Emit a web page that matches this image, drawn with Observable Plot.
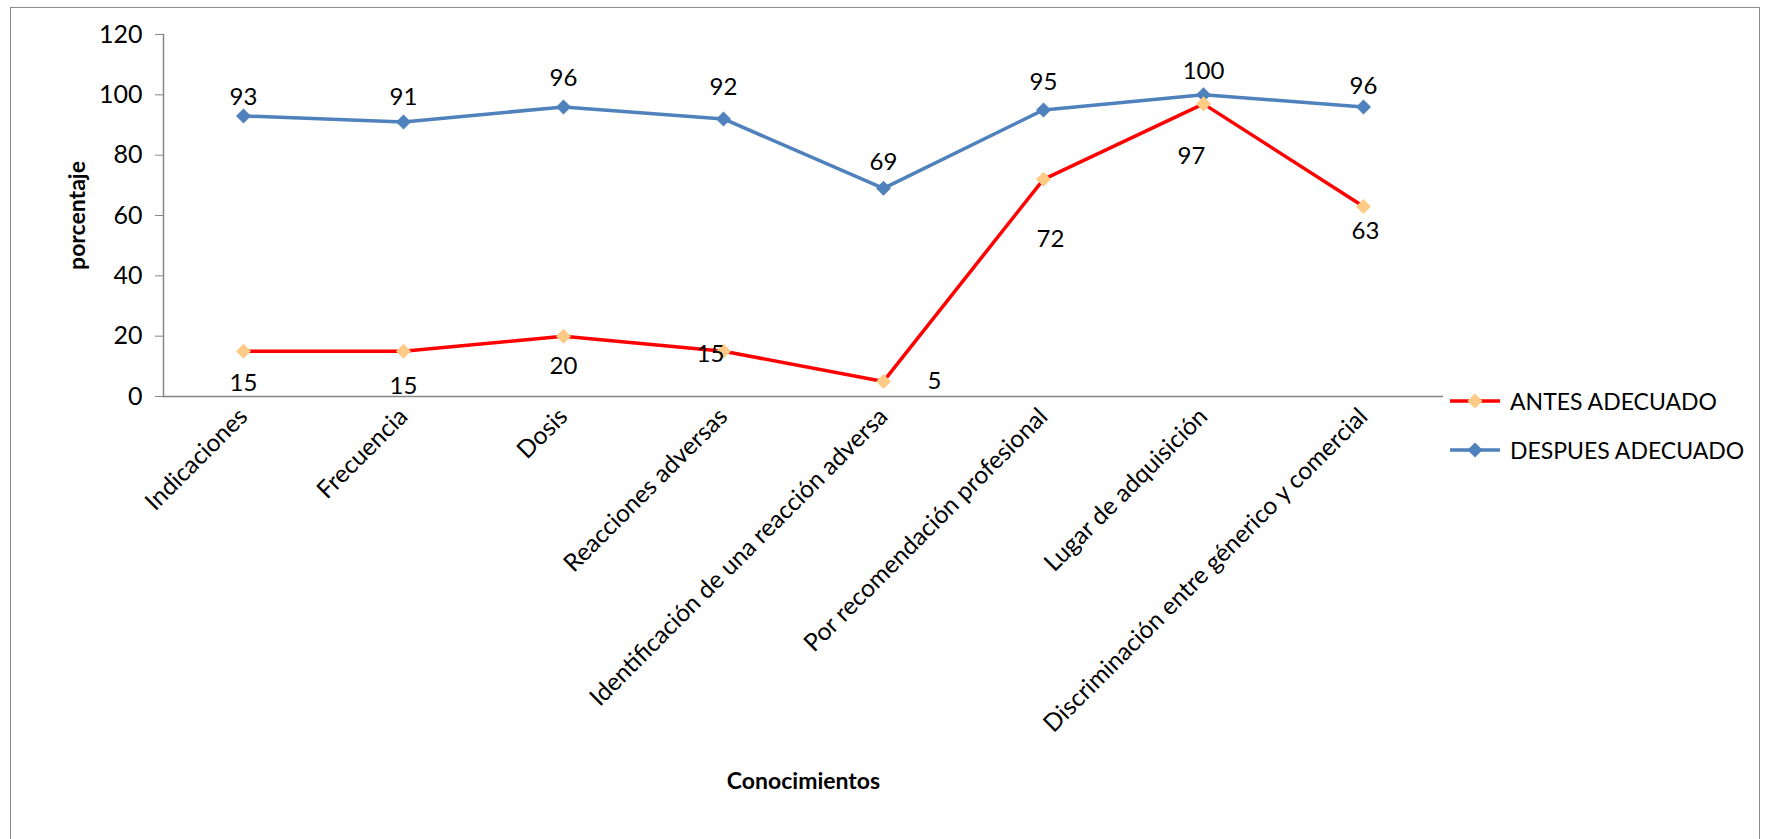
<!DOCTYPE html>
<html>
<head>
<meta charset="utf-8">
<script src="https://cdn.jsdelivr.net/npm/d3@7"></script>
<script src="https://cdn.jsdelivr.net/npm/@observablehq/plot@0.6"></script>
<style>
  html, body { margin: 0; padding: 0; background: #fff; overflow: hidden; }
  body { font-family: Lato, "Open Sans", sans-serif; width: 1775px; height: 839px; position: relative; }
  #border { position: absolute; left: 10px; top: 7px; width: 1750px; height: 900px; border: 1.5px solid #8c8c8c; box-sizing: border-box; }
  #chart { position: absolute; left: 0; top: 0; }
  #legend { position: absolute; left: 1450px; top: 376px; font-size: 23px; color: #000; }
  #legend .item { display: flex; align-items: center; height: 49px; }
  #legend svg { margin-right: 10px; }
</style>
</head>
<body>
<div id="border"></div>
<div id="chart"></div>
<div id="legend"></div>
<script>
// ---- data ----
const categories = [
  "Indicaciones",
  "Frecuencia",
  "Dosis",
  "Reacciones adversas",
  "Identificación de una reacción adversa",
  "Por recomendación profesional",
  "Lugar de adquisición",
  "Discriminación entre génerico y comercial"
];
const antes = [15, 15, 20, 15, 5, 72, 97, 63];
const despues = [93, 91, 96, 92, 69, 95, 100, 96];
const seriesNames = ["ANTES ADECUADO", "DESPUES ADECUADO"];
const yTicks = [0, 20, 40, 60, 80, 100, 120];

// label layout offsets (px), not data
const antesLabelDx = [0, 0, 0, -13, 51, 7, -12, 2];
const antesLabelDy = [32, 35, 30, 3, 0, 60, 52, 25];
const despuesLabelDy = [-19, -25, -29, -32, -26, -28, -24, -21];

// ---- styles ----
const redLine = "#FF0000";
const antesMarker = "#FDCB86";
const blue = "#4F81BD";
const axisGray = "#868686";
const fs = 24;

const antesRows = antes.map((v, i) => ({cat: categories[i], v, dx: antesLabelDx[i], dy: antesLabelDy[i]}));
const despuesRows = despues.map((v, i) => ({cat: categories[i], v, dy: despuesLabelDy[i]}));

const labelsA = antesRows.map((r) => Plot.text([r], {x: "cat", y: "v", text: (d) => String(d.v), dx: r.dx, dy: r.dy, fontSize: fs, fill: "black"}));
const labelsD = despuesRows.map((r) => Plot.text([r], {x: "cat", y: "v", text: (d) => String(d.v), dy: r.dy, fontSize: fs, fill: "black"}));

const plot = Plot.plot({
  width: 1775,
  height: 839,
  marginLeft: 163,
  marginRight: 332,
  marginTop: 34,
  marginBottom: 443,
  style: {fontFamily: "Lato, 'Open Sans', sans-serif", fontSize: fs + "px", color: "black", background: "transparent", overflow: "visible"},
  x: {type: "point", domain: categories, padding: 0.5},
  y: {domain: [0, 120]},
  marks: [
    Plot.axisY({ticks: yTicks, tickSize: 8, tickPadding: 13, fontSize: 25, stroke: axisGray, fill: "black", label: null}),
    Plot.axisX({tickSize: 0, tickRotate: -45, tickPadding: 16, fontSize: 24.5, fill: "black", label: null}),
    Plot.frame({anchor: "left", stroke: axisGray, strokeWidth: 1.5}),
    Plot.ruleY([0], {stroke: axisGray, strokeWidth: 1.5}),
    Plot.line(despuesRows, {x: "cat", y: "v", stroke: blue, strokeWidth: 3.5}),
    Plot.line(antesRows, {x: "cat", y: "v", stroke: redLine, strokeWidth: 3.5}),
    Plot.dot(despuesRows, {x: "cat", y: "v", symbol: "square", rotate: 45, r: 6, fill: blue, stroke: null}),
    Plot.dot(antesRows, {x: "cat", y: "v", symbol: "square", rotate: 45, r: 6, fill: antesMarker, stroke: null}),
    ...labelsD,
    ...labelsA,
    Plot.text(["Conocimientos"], {frameAnchor: "bottom", dy: 392, fontWeight: "bold", fontSize: 23, fill: "black"}),
    Plot.text(["porcentaje"], {frameAnchor: "left", dx: -86, rotate: -90, textAnchor: "middle", fontWeight: "bold", fontSize: 23, fill: "black"})
  ]
});
document.getElementById("chart").appendChild(plot);

// legend
const legend = document.getElementById("legend");
const legendStyles = [
  {stroke: redLine, marker: antesMarker},
  {stroke: blue, marker: blue}
];
seriesNames.forEach((name, i) => {
  const item = document.createElement("div");
  item.className = "item";
  const s = legendStyles[i];
  item.innerHTML = `<svg width="50" height="18"><line x1="0" y1="9" x2="50" y2="9" stroke="${s.stroke}" stroke-width="3.5"/><path d="M25,1.5 L32.5,9 L25,16.5 L17.5,9 Z" fill="${s.marker}"/></svg><span>${name}</span>`;
  legend.appendChild(item);
});
</script>
</body>
</html>
